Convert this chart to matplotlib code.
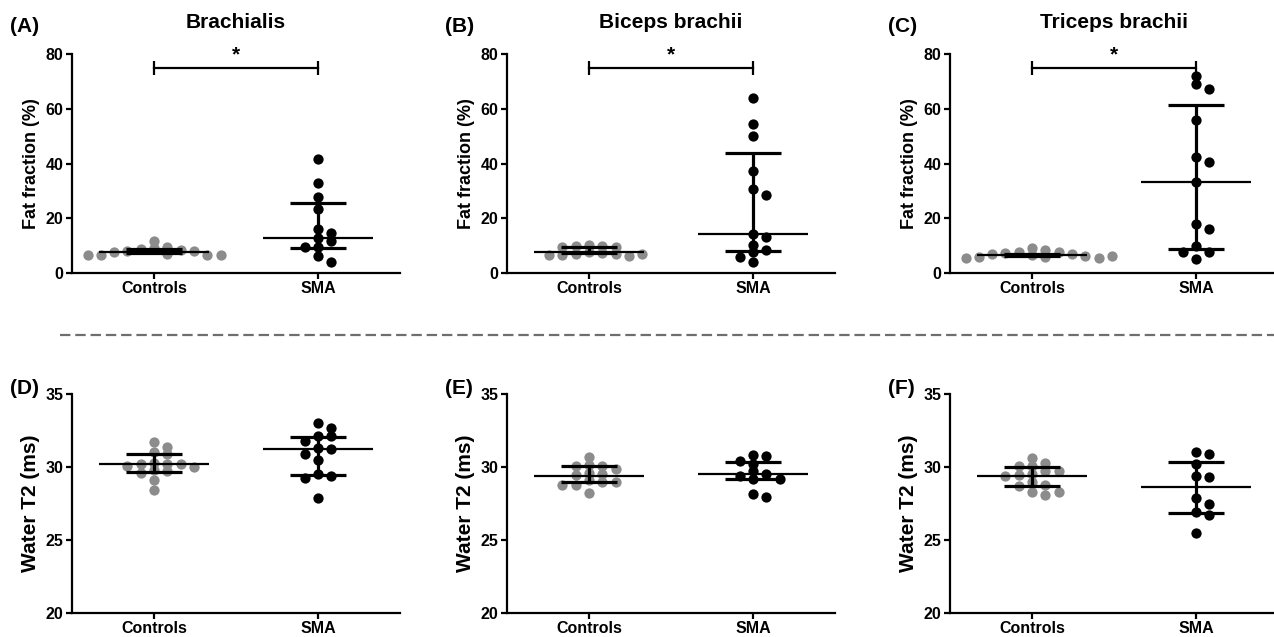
import numpy as np
import matplotlib
matplotlib.use("Agg")
import matplotlib.pyplot as plt
from matplotlib.lines import Line2D

plt.rcParams['font.family'] = ['Liberation Sans', 'DejaVu Sans']
plt.rcParams['font.weight'] = 'bold'
plt.rcParams['lines.scale_dashes'] = False

groups = ["Controls", "SMA"]
muscles = ["Brachialis", "Biceps brachii", "Triceps brachii"]
panel_labels_top = ["(A)", "(B)", "(C)"]
panel_labels_bottom = ["(D)", "(E)", "(F)"]

# Fat fraction (%) per subject
ff_ctrl_brachialis = [11.7, 9.4, 9.1, 8.9, 8.3, 8.1, 7.9, 7.5, 6.8, 6.7, 6.7, 6.6, 6.7]
ff_sma_brachialis = [41.6, 32.8, 27.7, 23.2, 15.9, 14.6, 12.8, 11.6, 9.4, 9.4, 6.2, 3.9]
ff_ctrl_biceps = [10.3, 9.9, 9.9, 9.6, 9.4, 7.7, 7.2, 7.1, 6.8, 6.4, 6.2, 6.4, 7.1]
ff_sma_biceps = [63.8, 54.5, 50.1, 37.3, 30.7, 28.6, 14.3, 13.1, 10.4, 8.3, 7.6, 5.9, 4.2]
ff_ctrl_triceps = [9.3, 8.4, 7.7, 7.5, 7.3, 7.1, 6.9, 6.6, 6.3, 6.0, 5.8, 5.6, 5.5, 6.2]
ff_sma_triceps = [72.0, 68.9, 67.2, 55.9, 42.3, 40.4, 33.4, 18.0, 16.0, 9.7, 7.5, 7.5, 5.2]

# Water T2 (ms) per subject
t2_ctrl_brachialis = [31.7, 31.4, 31.0, 30.9, 30.3, 30.2, 30.2, 30.2, 30.1, 30.0, 29.8, 29.7, 29.6, 29.1, 28.4]
t2_sma_brachialis = [33.0, 32.7, 32.1, 32.1, 31.8, 31.3, 31.2, 30.9, 30.5, 29.5, 29.35, 29.25, 27.9]
t2_ctrl_biceps = [30.7, 30.15, 30.1, 30.1, 29.85, 29.6, 29.55, 29.45, 29.1, 29.0, 29.0, 28.8, 28.75, 28.2]
t2_sma_biceps = [30.85, 30.75, 30.4, 30.2, 29.7, 29.55, 29.35, 29.15, 29.15, 28.15, 27.95]
t2_ctrl_triceps = [30.65, 30.3, 30.05, 30.05, 29.75, 29.75, 29.5, 29.45, 29.4, 28.95, 28.75, 28.7, 28.3, 28.3, 28.1]
t2_sma_triceps = [31.05, 30.9, 30.2, 29.35, 29.3, 27.85, 27.5, 26.9, 26.7, 25.5]

# Median and interquartile range per group: (median, q1, q3)
ff_summary_brachialis = [(7.8, 7.2, 8.6), (12.9, 9.2, 25.5)]
ff_summary_biceps = [(7.6, 7.3, 9.4), (14.3, 7.9, 43.7)]
ff_summary_triceps = [(6.7, 6.1, 7.0), (33.4, 8.9, 61.5)]
t2_summary_brachialis = [(30.2, 29.66, 30.88), (31.25, 29.46, 32.08)]
t2_summary_biceps = [(29.4, 29.0, 30.08), (29.55, 29.16, 30.37)]
t2_summary_triceps = [(29.4, 28.73, 29.97), (28.6, 26.88, 30.37)]

ff_ticks = [0, 20, 40, 60, 80]
t2_ticks = [20, 25, 30, 35]
significance = ["*", "*", "*"]

W, H = 1274, 637
fig = plt.figure(figsize=(W / 100, H / 100), dpi=100)

col_left = [72, 507, 950]
ax_w = 328
rows = [(54, 273), (394, 613)]

CTRL_COLOR = "#8c8c8c"
SMA_COLOR = "#000000"


def px_axes(left, top, bottom):
    return fig.add_axes([left / W, 1 - bottom / H, ax_w / W, (bottom - top) / H])


def swarm_offsets(ax, values, step_px=13.3, min_gap=7.0):
    """Column scatter: a point moves to the next free column when it would sit
    too close (vertically) to one already placed in the same column."""
    tr = ax.transData
    ys = np.array([tr.transform((0, v))[1] for v in values])
    px_per_unit = tr.transform((1, 0))[0] - tr.transform((0, 0))[0]
    cands = [0]
    for k in range(1, 20):
        cands += [k, -k]
    columns = {}
    offs = []
    for y in ys:
        for k in cands:
            if all(abs(y - py) >= min_gap for py in columns.get(k, [])):
                columns.setdefault(k, []).append(y)
                offs.append(k * step_px / px_per_unit)
                break
    return np.array(offs)


def style_axes(ax, ylim, yticks):
    ax.set_xlim(-0.5, 1.5)
    ax.set_ylim(*ylim)
    for s in ["top", "right"]:
        ax.spines[s].set_visible(False)
    for s in ["left", "bottom"]:
        ax.spines[s].set_linewidth(1.6)
        ax.spines[s].set_color("black")
    ax.set_xticks([0, 1])
    ax.set_xticklabels(groups, fontsize=11.5, fontweight="bold")
    ax.set_yticks(yticks)
    ax.set_yticklabels([str(t) for t in yticks], fontsize=11.5, fontweight="bold")
    ax.tick_params(axis="both", direction="out", length=4, width=1.6, color="black", pad=2)
    ax.patch.set_alpha(0)


def draw_groups(ax, ctrl, sma, summary):
    for i, (vals, col) in enumerate([(ctrl, CTRL_COLOR), (sma, SMA_COLOR)]):
        offs = swarm_offsets(ax, vals)
        ax.plot(i + offs, vals, "o", color=col, ms=7.4, mec="none", zorder=2, clip_on=False)
        med, q1, q3 = summary[i]
        ax.hlines(med, i - 0.335, i + 0.335, color="black", lw=1.6, zorder=3)
        ax.hlines([q1, q3], i - 0.17, i + 0.17, color="black", lw=2.3, zorder=3)
        ax.vlines(i, q1, q3, color="black", lw=2.3, zorder=3)


top_data = [
    (ff_ctrl_brachialis, ff_sma_brachialis, ff_summary_brachialis),
    (ff_ctrl_biceps, ff_sma_biceps, ff_summary_biceps),
    (ff_ctrl_triceps, ff_sma_triceps, ff_summary_triceps),
]
bottom_data = [
    (t2_ctrl_brachialis, t2_sma_brachialis, t2_summary_brachialis),
    (t2_ctrl_biceps, t2_sma_biceps, t2_summary_biceps),
    (t2_ctrl_triceps, t2_sma_triceps, t2_summary_triceps),
]

for j in range(3):
    # Fat fraction row
    ax = px_axes(col_left[j], *rows[0])
    style_axes(ax, (0, 80), ff_ticks)
    draw_groups(ax, *top_data[j])
    ax.set_ylabel("Fat fraction (%)", fontsize=13, fontweight="bold", labelpad=4)
    ax.set_title(muscles[j], fontsize=15, fontweight="bold", pad=19)
    # significance bracket
    ax.plot([0, 1], [75, 75], color="black", lw=1.6, clip_on=False)
    ax.vlines([0, 1], 72.3, 77.5, color="black", lw=1.6, clip_on=False)
    ax.text(0.5, 77.6, significance[j], ha="center", va="baseline", fontsize=15,
            fontweight="bold", clip_on=False)
    fig.text((col_left[j] - 62) / W, 1 - 27 / H, panel_labels_top[j], fontsize=15,
             fontweight="bold", va="center", ha="left")

    # Water T2 row
    ax = px_axes(col_left[j], *rows[1])
    style_axes(ax, (20, 35), t2_ticks)
    draw_groups(ax, *bottom_data[j])
    ax.set_ylabel("Water T2 (ms)", fontsize=15, fontweight="bold", labelpad=4)
    fig.text((col_left[j] - 62) / W, 1 - 388 / H, panel_labels_bottom[j], fontsize=15,
             fontweight="bold", va="center", ha="left")

# Dashed separator between the two rows
sep = Line2D([60 / W, 1.0], [1 - 335.5 / H, 1 - 335.5 / H], transform=fig.transFigure,
             color="#6e6e6e", lw=1.6, dashes=(7.5, 3.5))
fig.add_artist(sep)

fig.savefig("out.png", dpi=100)
